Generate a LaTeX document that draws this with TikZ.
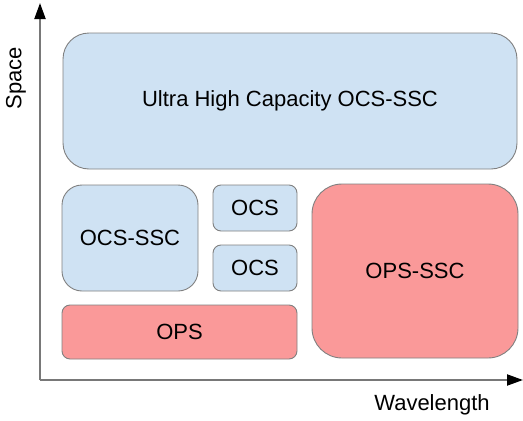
\documentclass[tikz,border=0pt]{standalone}
\usepackage{fontspec}
\setmainfont{Liberation Sans}
\usetikzlibrary{arrows.meta}
\definecolor{ocsblue}{RGB}{207,226,243}
\definecolor{opsred}{RGB}{250,153,153}
\definecolor{boxgray}{RGB}{128,128,128}
\definecolor{axisgray}{RGB}{120,120,120}
\tikzset{l/.style={font=\fontsize{22}{22}\selectfont}}
\tikzset{box/.style={draw=boxgray, line width=.9pt, inner sep=0pt, l}}
\tikzset{ocs/.style={box, fill=ocsblue}}
\tikzset{ops/.style={box, fill=opsred}}
\tikzset{ax/.style={draw=axisgray, line width=2pt, -{Triangle[length=16pt,width=11pt,black]}}}

\begin{document}
\begin{tikzpicture}[x=1pt, y=-1pt]
  \useasboundingbox (0,0) rectangle (523,421);
  % axes
  \coordinate (O) at (40,380);
  \coordinate (ytop) at (40,3);
  \coordinate (xend) at (523,380);
  \draw [ax] (O) -- (ytop);
  \draw [ax] (O) -- (xend);
  \node [l, rotate=90] (space) at (16,78) {Space};
  \node [l] (wave) at (432,405) {Wavelength};
  % circuit switched
  \node [ocs, rounded corners=26pt, minimum width=454pt, minimum height=136pt] (uhc) at (290,101) {Ultra High Capacity OCS-SSC};
  \node [ocs, rounded corners=20pt, minimum width=136pt, minimum height=106pt] (ocsssc) at (130,238) {OCS-SSC};
  \node [ocs, rounded corners=8pt, minimum width=84pt, minimum height=46pt] (ocs1) at (255,208) {OCS};
  \node [ocs, rounded corners=8pt, minimum width=84pt, minimum height=46pt] (ocs2) at (255,268) {OCS};
  % packet switched
  \node [ops, rounded corners=8pt, minimum width=235pt, minimum height=54pt] (ops) at (179.5,332) {OPS};
  \node [ops, rounded corners=30pt, minimum width=206pt, minimum height=174pt] (opsssc) at (415,271) {OPS-SSC};
\end{tikzpicture}
\end{document}
